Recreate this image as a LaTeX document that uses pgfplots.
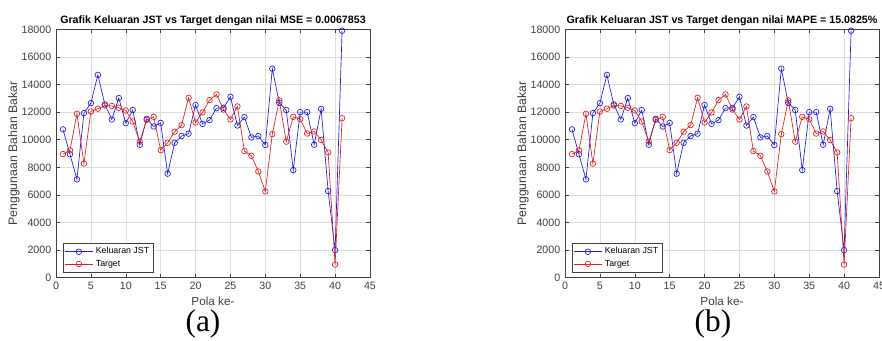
\documentclass[border=0pt]{standalone}
\usepackage{fontspec}
\setmainfont{Liberation Sans}
\newfontfamily\serifcap{Liberation Serif}
\usepackage{pgfplots}
\usepackage{pgfplotstable}
\pgfplotsset{compat=1.18}
\definecolor{mblue}{rgb}{0.12,0.12,0.88}
\definecolor{mred}{rgb}{0.88,0.12,0.12}
\definecolor{axgray}{gray}{0.25}
\definecolor{gridgray}{gray}{0.87}

\pgfplotstableread{
x jst target
1 10750 8960
2 8950 9230
3 7130 11880
4 11930 8270
5 12650 12050
6 14700 12250
7 12560 12480
8 11470 12450
9 13020 12320
10 11200 12120
11 12150 11320
12 9640 9860
13 11520 11440
14 10960 11660
15 11220 9250
16 7540 9780
17 9780 10580
18 10270 11060
19 10440 13040
20 12510 11250
21 11150 11980
22 11420 12870
23 12290 13280
24 12310 12190
25 13110 11470
26 11030 12410
27 11640 9180
28 10170 8840
29 10270 7700
30 9620 6250
31 15150 10410
32 12670 12850
33 12150 9860
34 7800 11660
35 12000 11490
36 12000 10450
37 9640 10600
38 12240 9980
39 6280 9080
40 2000 960
41 17900 11560
}\data

\pgfplotsset{
 mystyle/.style={
  scale only axis, width=235.5pt, height=186.3pt,
  xmin=0, xmax=45, ymin=0, ymax=18000,
  xtick={0,5,...,45}, ytick={0,2000,...,18000},
  scaled ticks=false,
  /pgf/number format/1000 sep={},
  /pgf/number format/assume math mode=true,
  grid=major, major grid style={gridgray, line width=0.4pt},
  tick align=inside, major tick length=3pt,
  axis line style={axgray, line width=0.5pt},
  tick style={axgray, line width=0.4pt},
  ticklabel style={font=\fontsize{8}{9}\selectfont, text=axgray},
  title style={font=\bfseries\fontsize{8}{9}\selectfont, inner sep=0pt,
    at={(axis description cs:0.5,1)}, anchor=base, yshift=-1.5pt},
  xlabel={Pola ke-}, ylabel={Penggunaan Bahan Bakar},
  xlabel style={font=\fontsize{8.8}{10}\selectfont, text=axgray,
    at={(axis description cs:0.5,-0.094)}, anchor=center},
  ylabel style={font=\fontsize{9.2}{10}\selectfont, text=axgray,
    at={(axis description cs:-0.134,0.5)}, anchor=center, rotate=0},
  legend style={at={(0.022,0.022)}, anchor=south west,
    font=\fontsize{6.6}{7.5}\selectfont, draw=axgray, inner sep=1pt,
    row sep=-1pt, cells={anchor=west}},
  legend image code/.code={
    \draw[mark repeat=2,mark phase=2,#1] plot coordinates {(0pt,0pt) (10.5pt,0pt) (21pt,0pt)};
  },
 },
 jst/.style={color=mblue, line width=0.5pt, mark=o, mark size=2.1pt},
 tgt/.style={color=mred, line width=0.5pt, mark=o, mark size=2.1pt},
}

\begin{document}
\begin{tikzpicture}
\begin{axis}[mystyle, at={(42pt,46.7pt)}, anchor=south west,
  title={Grafik Keluaran JST vs Target dengan nilai MSE = 0.0067853}]
\addplot[jst] table[x=x,y=jst] {\data};
\addlegendentry{Keluaran JST}
\addplot[tgt] table[x=x,y=target] {\data};
\addlegendentry{Target}
\end{axis}
\begin{axis}[mystyle, at={(423.75pt,46.7pt)}, anchor=south west,
  title={Grafik Keluaran JST vs Target dengan nilai MAPE = 15.0825\%}]
\addplot[jst] table[x=x,y=jst] {\data};
\addlegendentry{Keluaran JST}
\addplot[tgt] table[x=x,y=target] {\data};
\addlegendentry{Target}
\end{axis}
\node[font=\serifcap\fontsize{23.5}{26}\selectfont] at (152.25pt,11.8pt) {(a)};
\node[font=\serifcap\fontsize{23.5}{26}\selectfont] at (534.75pt,11.8pt) {(b)};
\pgfresetboundingbox
\useasboundingbox (0pt,0pt) rectangle (661.5pt,255pt);
\end{tikzpicture}
\end{document}
